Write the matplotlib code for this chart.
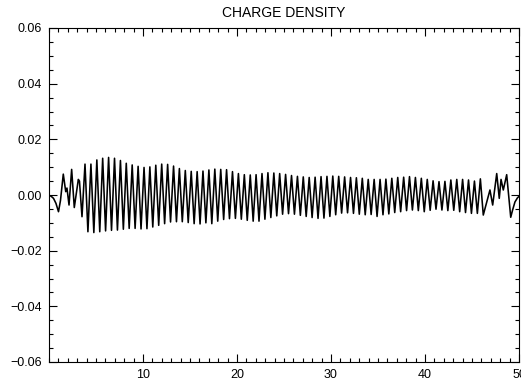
import numpy as np
import matplotlib
matplotlib.use("Agg")
import matplotlib.pyplot as plt
from matplotlib.ticker import MultipleLocator, FuncFormatter

# irregular start of the signal (x, value)
t_start = [0.00, 0.21, 0.48, 0.74, 1.01, 1.22, 1.52, 1.78, 1.91, 2.13, 2.41, 2.69, 3.12, 3.24, 3.51]
v_start = [-0.0002, -0.0004, -0.0012, -0.0030, -0.0060, -0.0020, 0.0075, 0.0012, 0.0025,
           -0.0036, 0.0092, -0.0045, 0.0056, 0.0050, -0.0078]

# maxima of the regular oscillation
t_top = [3.83, 4.46, 5.09, 5.71, 6.34, 6.97, 7.60, 8.22, 8.85, 9.48, 10.11, 10.73, 11.36, 11.99,
         12.62, 13.25, 13.87, 14.50, 15.13, 15.76, 16.38, 17.01, 17.64, 18.27, 18.89, 19.52,
         20.15, 20.78, 21.41, 22.03, 22.66, 23.29, 23.92, 24.54, 25.17, 25.80, 26.43, 27.05,
         27.68, 28.31, 28.94, 29.57, 30.19, 30.82, 31.45, 32.08, 32.70, 33.33, 33.96, 34.59,
         35.22, 35.84, 36.47, 37.10, 37.73, 38.35, 38.98, 39.61, 40.24, 40.86, 41.49, 42.12,
         42.75, 43.38, 44.00, 44.63, 45.26, 45.89]
v_top = [0.0111, 0.0111, 0.0126, 0.0132, 0.0135, 0.0132, 0.0124, 0.0114, 0.0108, 0.0103,
         0.0099, 0.0101, 0.0107, 0.0111, 0.0110, 0.0104, 0.0095, 0.0088, 0.0085, 0.0084,
         0.0086, 0.0090, 0.0093, 0.0092, 0.0091, 0.0084, 0.0077, 0.0073, 0.0072, 0.0073,
         0.0077, 0.0080, 0.0079, 0.0077, 0.0074, 0.0070, 0.0067, 0.0065, 0.0063, 0.0064,
         0.0066, 0.0067, 0.0068, 0.0067, 0.0065, 0.0063, 0.0062, 0.0060, 0.0056, 0.0056,
         0.0056, 0.0057, 0.0060, 0.0063, 0.0064, 0.0066, 0.0063, 0.0060, 0.0056, 0.0051,
         0.0048, 0.0049, 0.0054, 0.0056, 0.0056, 0.0054, 0.0050, 0.0058]

# minima of the regular oscillation
t_bot = [4.14, 4.77, 5.40, 6.02, 6.65, 7.28, 7.91, 8.53, 9.16, 9.79, 10.42, 11.04, 11.67, 12.30,
         12.93, 13.56, 14.18, 14.81, 15.44, 16.07, 16.69, 17.32, 17.95, 18.58, 19.20, 19.83,
         20.46, 21.09, 21.72, 22.34, 22.97, 23.60, 24.23, 24.85, 25.48, 26.11, 26.74, 27.36,
         27.99, 28.62, 29.25, 29.88, 30.50, 31.13, 31.76, 32.39, 33.01, 33.64, 34.27, 34.90,
         35.53, 36.15, 36.78, 37.41, 38.04, 38.66, 39.29, 39.92, 40.55, 41.17, 41.80, 42.43,
         43.06, 43.69, 44.31, 44.94, 45.57, 46.20]
v_bot = [-0.0132, -0.0135, -0.0132, -0.0129, -0.0127, -0.0126, -0.0123, -0.0120, -0.0120,
         -0.0122, -0.0121, -0.0115, -0.0109, -0.0103, -0.0097, -0.0096, -0.0096, -0.0099,
         -0.0103, -0.0104, -0.0100, -0.0103, -0.0094, -0.0088, -0.0085, -0.0084, -0.0087,
         -0.0091, -0.0094, -0.0094, -0.0087, -0.0081, -0.0075, -0.0069, -0.0067, -0.0069,
         -0.0073, -0.0077, -0.0081, -0.0084, -0.0083, -0.0077, -0.0071, -0.0065, -0.0064,
         -0.0066, -0.0069, -0.0071, -0.0070, -0.0077, -0.0071, -0.0068, -0.0063, -0.0060,
         -0.0056, -0.0054, -0.0056, -0.0060, -0.0055, -0.0051, -0.0054, -0.0056, -0.0055,
         -0.0060, -0.0063, -0.0066, -0.0066, -0.0072]

# irregular end of the signal
t_end = [46.91, 47.20, 47.63, 47.90, 48.09, 48.33, 48.69, 49.12, 49.31, 49.57, 49.84, 50.00]
v_end = [0.0018, -0.0036, 0.0077, -0.0012, 0.0056, 0.0018, 0.0073, -0.0080, -0.0055,
         -0.0025, -0.0010, -0.0005]

# join everything in time order
t_mid = np.column_stack([t_top, t_bot]).ravel()
v_mid = np.column_stack([v_top, v_bot]).ravel()
t = np.concatenate([t_start, t_mid, t_end])
rho = np.concatenate([v_start, v_mid, v_end])

plt.rcParams['font.family'] = ['Liberation Sans', 'DejaVu Sans']

fig = plt.figure(figsize=(5.21, 3.84), dpi=100)
ax = fig.add_axes([49 / 521, 1 - 362 / 384, 470 / 521, 334 / 384])

ax.plot(t, rho, color='black', lw=1.15)

ax.set_xlim(0, 50)
ax.set_ylim(-0.06, 0.06)
ax.set_xticks([10, 20, 30, 40, 50])
ax.xaxis.set_minor_locator(MultipleLocator(1))
ax.yaxis.set_major_locator(MultipleLocator(0.02))
ax.yaxis.set_minor_locator(MultipleLocator(0.005))
ax.yaxis.set_major_formatter(FuncFormatter(lambda v, p: f"{v:.2f}".replace('-', '\u2212')
                                           if abs(v) > 1e-9 else "0.00"))

ax.tick_params(which='both', direction='in', top=True, right=True, labelsize=9, color='black')
ax.tick_params(which='major', length=6, width=0.8)
ax.tick_params(which='minor', length=3, width=0.8)
ax.tick_params(axis='x', pad=5)
ax.tick_params(axis='y', pad=5)
for s in ax.spines.values():
    s.set_linewidth(0.8)

ax.set_title("CHARGE DENSITY", fontsize=10, pad=8)

fig.savefig("out.png", dpi=100)
